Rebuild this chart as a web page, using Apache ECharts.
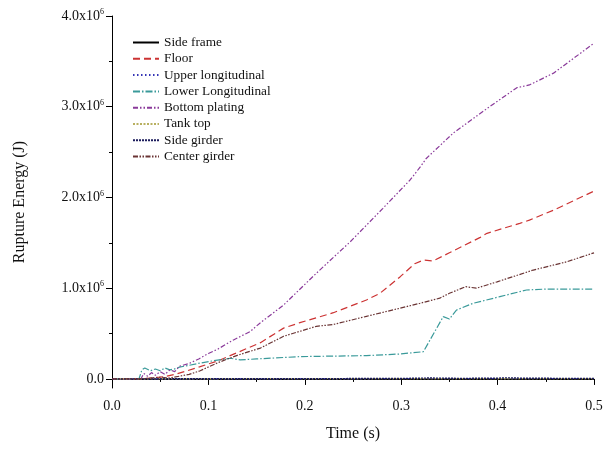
<!DOCTYPE html>
<html><head><meta charset="utf-8">
<script src="https://cdn.jsdelivr.net/npm/echarts@6/dist/echarts.min.js"></script>
<style>html,body{margin:0;padding:0;background:#fff}#c{width:612px;height:451px}</style>
</head><body><div id="c"></div>
<script>
// ---- data (values in units of 1e6 J) ----
const seriesNames = ["Side frame","Floor","Upper longitudinal","Lower Longitudinal","Bottom plating","Tank top","Side girder","Center girder"];
const yTickValues = [0, 1000000, 2000000, 3000000, 4000000];
const yMinorTickValues = [500000, 1500000, 2500000, 3500000];

const sideFrameT = [0, 0.1, 0.2, 0.3, 0.4, 0.5];
const sideFrameV = [0, 0, 0, 0, 0, 0];

const floorT = [0, 0.03, 0.04, 0.05, 0.057, 0.065, 0.075, 0.0915, 0.11, 0.13, 0.154, 0.178, 0.195, 0.2297, 0.264, 0.278, 0.299, 0.314, 0.323, 0.333, 0.35, 0.382, 0.389, 0.423, 0.433, 0.458, 0.5];
const floorV = [0, 0, 0.01, 0.02, 0.03, 0.05, 0.08, 0.135, 0.2, 0.29, 0.4, 0.56, 0.62, 0.73, 0.87, 0.944, 1.127, 1.27, 1.31, 1.30, 1.39, 1.56, 1.605, 1.715, 1.75, 1.86, 2.07];

const upperLongT = [0, 0.1, 0.2, 0.3, 0.4, 0.5];
const upperLongV = [0, 0, 0.001, 0.002, 0.002, 0.002];

const lowerLongT = [0, 0.028, 0.031, 0.034, 0.04, 0.045, 0.05, 0.055, 0.06, 0.065, 0.07, 0.08, 0.0915, 0.105, 0.1226, 0.133, 0.15, 0.195, 0.264, 0.299, 0.323, 0.326, 0.3436, 0.35, 0.3575, 0.3747, 0.4024, 0.43, 0.45, 0.5];
const lowerLongV = [0, 0, 0.1, 0.12, 0.09, 0.11, 0.09, 0.12, 0.1, 0.11, 0.13, 0.15, 0.175, 0.2, 0.228, 0.21, 0.22, 0.246, 0.257, 0.275, 0.30, 0.356, 0.687, 0.66, 0.76, 0.834, 0.907, 0.98, 0.99, 0.99];

const bottomPlatingT = [0, 0.03, 0.033, 0.037, 0.041, 0.045, 0.05, 0.055, 0.06, 0.065, 0.07, 0.08, 0.09, 0.1, 0.11, 0.126, 0.143, 0.154, 0.178, 0.212, 0.247, 0.281, 0.309, 0.32, 0.326, 0.354, 0.389, 0.42, 0.433, 0.458, 0.5];
const bottomPlatingV = [0, 0, 0.06, 0.03, 0.07, 0.04, 0.08, 0.05, 0.1, 0.08, 0.14, 0.17, 0.22, 0.28, 0.33, 0.43, 0.52, 0.62, 0.815, 1.165, 1.51, 1.88, 2.19, 2.34, 2.43, 2.71, 2.98, 3.21, 3.24, 3.37, 3.70];

const tankTopT = [0, 0.1, 0.2, 0.3, 0.4, 0.5];
const tankTopV = [0, 0.001, 0.002, 0.003, 0.003, 0.003];

const sideGirderT = [0, 0.1, 0.2, 0.3, 0.33, 0.36, 0.4, 0.41, 0.43, 0.5];
const sideGirderV = [0, 0.002, 0.003, 0.005, 0.01, 0.006, 0.008, 0.012, 0.007, 0.006];

const centerGirderT = [0, 0.03, 0.04, 0.05, 0.06, 0.07, 0.08, 0.0915, 0.11, 0.13, 0.154, 0.178, 0.212, 0.2297, 0.264, 0.299, 0.3195, 0.34, 0.35, 0.367, 0.378, 0.3995, 0.437, 0.4715, 0.5];
const centerGirderV = [0, 0, 0.01, 0.02, 0.01, 0.03, 0.05, 0.09, 0.18, 0.26, 0.34, 0.47, 0.58, 0.6, 0.69, 0.78, 0.834, 0.89, 0.944, 1.017, 1.0, 1.07, 1.2, 1.29, 1.39];

const SCALE = 1e6;
function pts(t, v) { return t.map((x, i) => [x, v[i] * SCALE]); }

const serif = "'Liberation Serif','Times New Roman',serif";
const chart = echarts.init(document.getElementById('c'), null, {renderer: 'canvas'});

function mk(name, t, v, color, type, width) {
  return {
    name: name, type: 'line', data: pts(t, v), symbol: 'none', showSymbol: false,
    lineStyle: {color: color, width: width || 1.1, type: type},
    itemStyle: {color: color}, animation: false, z: 3
  };
}

const option = {
  backgroundColor: '#fff',
  animation: false,
  grid: {left: 112, right: 18, top: 16, bottom: 63, containLabel: false},
  legend: {
    orient: 'vertical', left: 127, top: 31, itemWidth: 26, itemHeight: 14, itemGap: 3.3,
    itemStyle: {opacity: 0, borderWidth: 0},
    textStyle: {fontFamily: serif, fontSize: 13.3, color: '#111'},
    data: seriesNames
  },
  xAxis: {
    type: 'value', min: 0, max: 0.5, interval: 0.1,
    name: 'Time (s)', nameLocation: 'middle', nameGap: 38,
    nameTextStyle: {fontFamily: serif, fontSize: 16, color: '#111'},
    axisLine: {show: true, lineStyle: {color: '#000', width: 1}},
    axisTick: {show: true, length: 6, inside: false, lineStyle: {color: '#000'}},
    minorTick: {show: true, splitNumber: 2, length: 3, lineStyle: {color: '#000'}},
    splitLine: {show: false},
    axisLabel: {fontFamily: serif, fontSize: 14, color: '#111', margin: 11, formatter: v => v.toFixed(1)}
  },
  yAxis: [{
    type: 'value', min: -100000, max: 4000000,
    name: 'Rupture Energy (J)', nameLocation: 'middle', nameGap: 84, nameRotate: 90,
    nameTextStyle: {fontFamily: serif, fontSize: 16, color: '#111'},
    axisLine: {show: true, lineStyle: {color: '#000', width: 1}},
    axisTick: {show: true, length: 6, customValues: yTickValues, lineStyle: {color: '#000'}},
    splitLine: {show: false},
    axisLabel: {
      customValues: yTickValues, margin: 8, color: '#111',
      formatter: function (v) {
        if (v === 0) return '{a|0.0}';
        return '{a|' + (v / 1e6).toFixed(1) + 'x10}{s|6}';
      },
      rich: {
        a: {fontFamily: serif, fontSize: 14, color: '#111'},
        s: {fontFamily: serif, fontSize: 8, color: '#111', verticalAlign: 'top', padding: [0, 0, 8, 0]}
      }
    }
  }, {
    type: 'value', min: -100000, max: 4000000, position: 'left',
    axisLine: {show: false},
    axisTick: {show: true, length: 3, customValues: yMinorTickValues, lineStyle: {color: '#000'}},
    axisLabel: {show: false},
    splitLine: {show: false}
  }],
  series: [
    mk('Side frame', sideFrameT, sideFrameV, '#000000', 'solid', 1.1),
    mk('Floor', floorT, floorV, '#cc3333', [7, 4], 1.2),
    mk('Upper longitudinal', upperLongT, upperLongV, '#3535b5', [1.5, 2.5], 1.2),
    mk('Lower Longitudinal', lowerLongT, lowerLongV, '#3a9a9a', [7, 2, 1.5, 2], 1.2),
    mk('Bottom plating', bottomPlatingT, bottomPlatingV, '#8a3a9a', [5, 2, 1.5, 2, 1.5, 2], 1.2),
    mk('Tank top', tankTopT, tankTopV, '#b8b060', [2, 1.5], 1.1),
    mk('Side girder', sideGirderT, sideGirderV, '#1c1c5c', [2, 1], 1.4),
    mk('Center girder', centerGirderT, centerGirderV, '#6a3434', [5, 1.5, 1.5, 1.5, 1.5, 1.5], 1.2)
  ]
};
chart.setOption(option);
</script>
</body></html>
